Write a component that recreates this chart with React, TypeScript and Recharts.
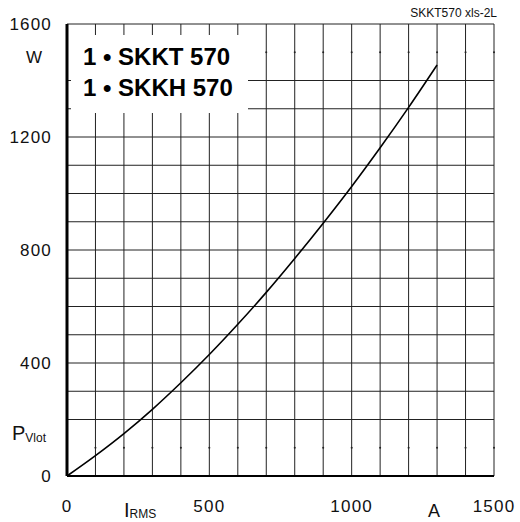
import React from 'react';
import { LineChart, Line, XAxis, YAxis, ReferenceLine, ReferenceDot } from 'recharts';

// I_RMS in A
const current = [0, 100, 200, 300, 400, 500, 600, 700, 800, 900, 1000, 1100, 1200, 1300];
// P_Vlot in W
const power = [0, 72, 150, 236, 330, 430, 537, 650, 770, 895, 1025, 1162, 1305, 1455];

const xTicks = [0, 500, 1000, 1500];
const yTicks = [0, 400, 800, 1200, 1600];

// grid: the 100 W and 1500 W lines are only dotted at crossings
const gridX = [100, 200, 300, 400, 500, 600, 700, 800, 900, 1000, 1100, 1200, 1300, 1400, 1500];
const gridY = [200, 300, 400, 500, 600, 700, 800, 900, 1000, 1100, 1200, 1300, 1400, 1600];
const dottedY = [100, 1500];

const labels = ['1 • SKKT 570', '1 • SKKH 570'];

const data = current.map((a, i) => ({ a, p: power[i] }));

const font = '"Liberation Sans", Arial, sans-serif';
const tickStyle = { fontFamily: font, fontSize: 17, fill: '#111', letterSpacing: 1.2 };

export default function App() {
  return (
    <div style={{ position: 'absolute', left: 0, top: 0, width: 520, height: 522, background: '#fff' }}>
      <LineChart
        width={520}
        height={522}
        data={data}
        margin={{ top: 24, right: 26, left: 0, bottom: 16 }}
      >
        <XAxis
          dataKey="a"
          type="number"
          domain={[0, 1500]}
          ticks={xTicks}
          interval={0}
          axisLine={false}
          tickLine={false}
          tickSize={0}
          tickMargin={24}
          height={30}
          tick={tickStyle}
        />
        <YAxis
          type="number"
          domain={[0, 1600]}
          ticks={yTicks}
          interval={0}
          axisLine={false}
          tickLine={false}
          tickSize={0}
          tickMargin={15}
          width={67}
          tick={tickStyle}
        />
        {gridX.map((v) => (
          <ReferenceLine key={'x' + v} x={v} stroke="#222" strokeWidth={1} />
        ))}
        {gridY.map((v) => (
          <ReferenceLine key={'y' + v} y={v} stroke="#222" strokeWidth={1} />
        ))}
        {dottedY.flatMap((y) =>
          gridX.map((x) => (
            <ReferenceDot key={`d${x}-${y}`} x={x} y={y} r={1} fill="#222" stroke="none" />
          ))
        )}
        <ReferenceLine x={0} stroke="#000" strokeWidth={3} />
        <ReferenceLine y={0} stroke="#000" strokeWidth={2} />
        <Line
          type="monotone"
          dataKey="p"
          stroke="#000"
          strokeWidth={1.6}
          dot={false}
          isAnimationActive={false}
        />
      </LineChart>
      <svg
        width={520}
        height={522}
        style={{ position: 'absolute', left: 0, top: 0, pointerEvents: 'none' }}
        fontFamily={font}
      >
        <rect x={71} y={35} width={177} height={78} fill="#fff" />
        <text x={83} y={65} fontSize={24} fontWeight="bold" fill="#000">{labels[0]}</text>
        <text x={83} y={96} fontSize={24} fontWeight="bold" fill="#000">{labels[1]}</text>
        <text x={34} y={63} fontSize={17} textAnchor="middle" fill="#111">W</text>
        <text x={12} y={440} fontSize={20} fill="#111">
          P<tspan fontSize={12} dy={2}>Vlot</tspan>
        </text>
        <text x={124} y={517} fontSize={20} fill="#111">
          I<tspan fontSize={12} dy={1}>RMS</tspan>
        </text>
        <text x={434} y={517} fontSize={18} textAnchor="middle" fill="#111">A</text>
        <text x={497} y={17} fontSize={12} textAnchor="end" fill="#111">SKKT570 xls-2L</text>
      </svg>
    </div>
  );
}
